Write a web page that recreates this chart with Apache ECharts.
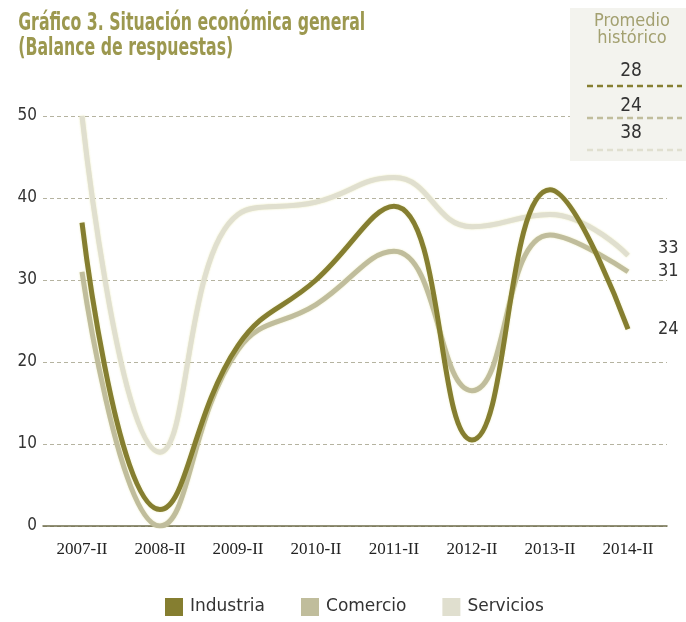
<!DOCTYPE html>
<html><head><meta charset="utf-8">
<script src="https://cdn.jsdelivr.net/npm/echarts@6/dist/echarts.min.js"></script>
<style>html,body{margin:0;padding:0;background:#fff}#c{width:686px;height:622px}</style>
</head><body><div id="c"></div>
<script>
const categories = ['2007-II','2008-II','2009-II','2010-II','2011-II','2012-II','2013-II','2014-II'];
const industria = [37, 2, 22, 30, 39, 10.5, 41, 24];
const comercio  = [31, 0, 21.5, 27, 33.5, 16.5, 35.5, 31];
const servicios = [50, 9, 38, 39.5, 42.5, 36.5, 38, 33];
const promedios = [28, 24, 38];
const seriesNames = ['Industria','Comercio','Servicios'];
const colors = ['#857e30','#c0bd9c','#e0dfcf'];
const titleLines = ['Gráfico 3. Situación económica general', '(Balance de respuestas)'];

const chart = echarts.init(document.getElementById('c'));
const font = 'DejaVu Sans Condensed';
function mk(name, data, color, off){
  return {
    name, type:'line', data, smooth:0.45, symbol:'none',
    lineStyle:{color, width:5, shadowColor:'rgba(220,220,140,0.6)', shadowBlur:2},
    itemStyle:{color},
    endLabel:{show:true, formatter:p=>Math.round(p.value), color:'#333', fontSize:18, fontFamily:font, distance:30, offset:off},
    z: name==='Industria'?4:(name==='Comercio'?3:2)
  };
}
const lineY = [86, 118, 150];
const textY = [62, 97, 124];
const graphics = [
  {type:'text', x:14, y:11, scaleX:0.7, originX:14, style:{text:titleLines.join('\n'), fill:'#9c984f', font:'bold 25px '+font, lineHeight:25}, z:6},
  {type:'rect', shape:{x:570, y:8, width:116, height:153}, style:{fill:'#f3f3ee'}, z:5},
  {type:'text', x:632, y:13, style:{text:'Promedio\nhistórico', fill:'#a3a070', font:'18px '+font, textAlign:'center', lineHeight:17}, z:6}
];
promedios.forEach((v,i)=>{
  graphics.push({type:'text', x:631, y:textY[i], style:{text:String(v), fill:'#333', font:'19px '+font, textAlign:'center'}, z:6});
  graphics.push({type:'line', shape:{x1:587, y1:lineY[i], x2:682, y2:lineY[i]}, style:{stroke:colors[i], lineWidth:2.5, lineDash:[6,4]}, z:6});
});
chart.setOption({
  animation:false,
  color:colors,
  legend:{bottom:1, left:160, itemWidth:18, itemHeight:18, itemGap:36, icon:'rect',
    textStyle:{color:'#333', fontSize:17, fontFamily:'DejaVu Sans', padding:[0,0,0,2]}, data:seriesNames},
  grid:{left:43, right:19, top:116, bottom:96},
  xAxis:{type:'category', data:categories, boundaryGap:true,
    axisLine:{show:true, lineStyle:{color:'#6e6c4a', width:1.5}}, axisTick:{show:false},
    axisLabel:{color:'#222', fontSize:17, fontFamily:'Liberation Serif', margin:15}},
  yAxis:{type:'value', min:0, max:50, interval:10,
    axisLine:{show:false}, axisTick:{show:false},
    axisLabel:{color:'#333', fontSize:17, fontFamily:font, margin:6},
    splitLine:{lineStyle:{color:'#b5b3a0', type:[4,3], width:1}}},
  series:[mk('Industria', industria, colors[0], [0,0]), mk('Comercio', comercio, colors[1], [0,0]), mk('Servicios', servicios, colors[2], [0,-7])],
  graphic:graphics
});
</script></body></html>
